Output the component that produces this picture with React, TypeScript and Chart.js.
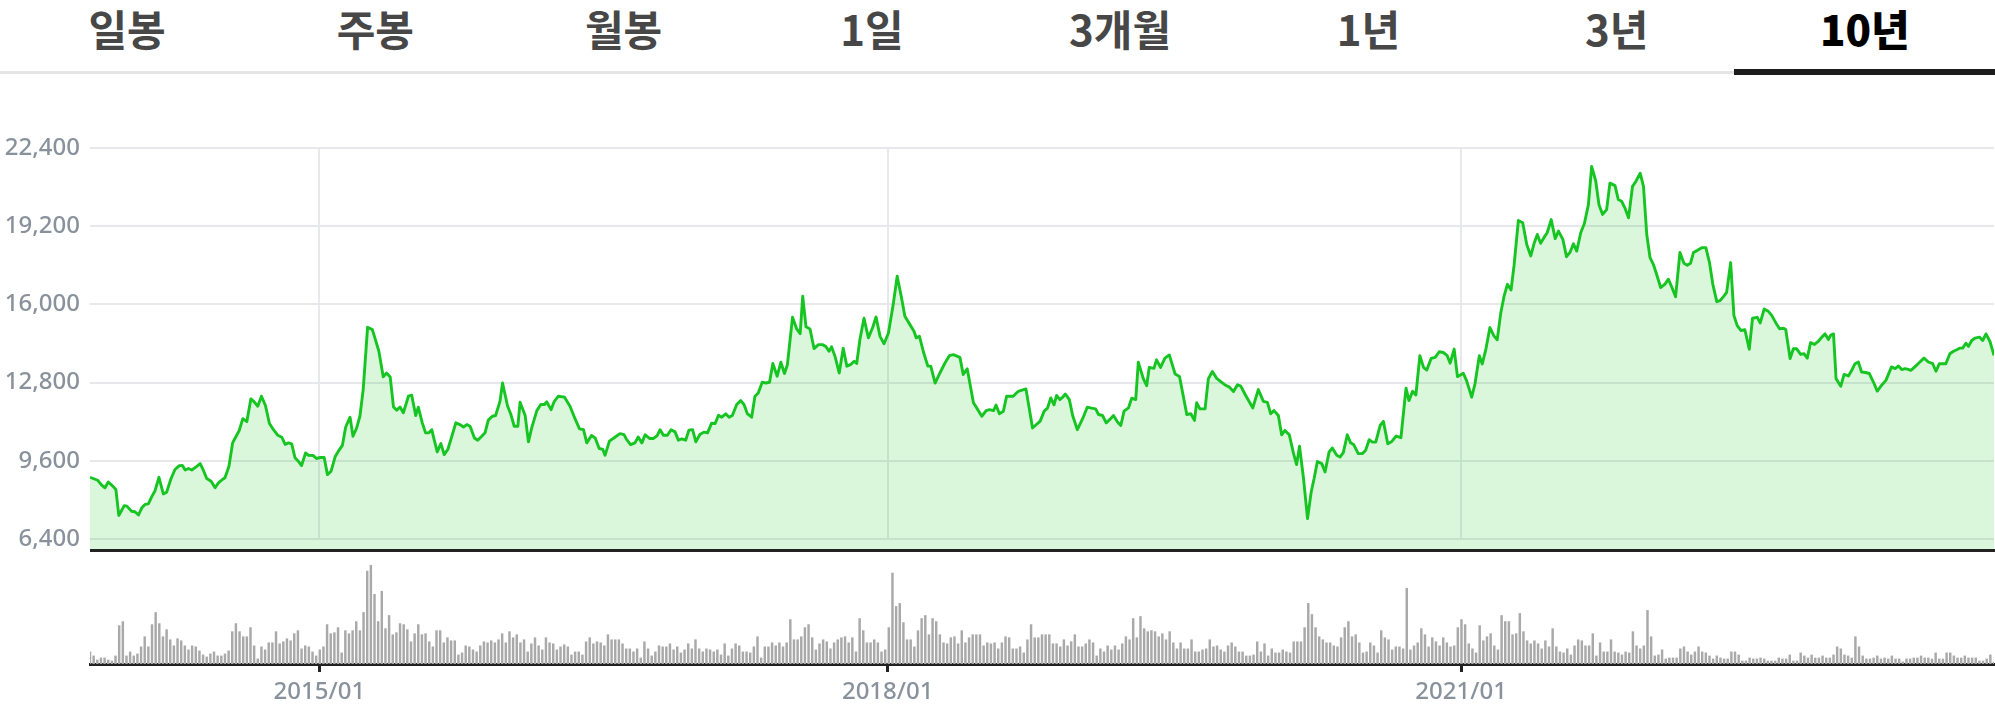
import React, { useEffect, useRef } from "react";
import { Chart, registerables } from "chart.js";

Chart.register(...registerables);

// ---------- data ----------
const tabLabels = ["일봉", "주봉", "월봉", "1일", "3개월", "1년", "3년", "10년"];
const activeTabIndex = 7;

const priceTicks = [6400, 9600, 12800, 16000, 19200, 22400];
const priceMin = 5920;
const priceMax = 22400;

// week index (0 = first week of the 10-year range) of each date label
const dateTickWeeks = [62.9, 218.7, 375.9];
const dateTickLabels = ["2015/01", "2018/01", "2021/01"];
const totalWeeks = 522;

// weekly closing price (week index, price in KRW)
const priceWeeks = [
  0.0, 2.1, 3.2, 4.1, 5.0, 6.1, 7.1, 7.9, 9.4, 10.1,
  11.4, 12.3, 13.3, 14.2, 15.1, 16.0, 16.9, 17.8, 18.9, 20.1,
  21.0, 22.2, 23.3, 24.5, 25.3, 26.1, 27.0, 27.9, 29.1, 30.2,
  31.1, 32.0, 33.2, 34.3, 35.2, 36.3, 37.0, 38.1, 39.1, 39.8,
  40.9, 41.9, 43.0, 44.1, 44.9, 46.0, 47.0, 48.1, 49.2, 50.3,
  51.5, 52.6, 53.5, 54.4, 55.3, 56.2, 57.1, 58.0, 59.1, 59.9,
  61.2, 62.1, 63.1, 64.2, 65.1, 66.1, 67.2, 68.1, 69.2, 70.1,
  71.3, 72.1, 73.1, 74.0, 74.9, 76.1, 77.4, 78.1, 79.2, 80.4,
  81.3, 82.3, 83.2, 84.1, 85.0, 85.9, 87.3, 88.2, 89.3, 90.0,
  91.1, 92.0, 92.9, 93.7, 94.3, 95.2, 96.2, 97.1, 98.1, 99.2,
  100.3, 101.4, 102.4, 103.3, 104.2, 105.4, 106.3, 107.4, 108.3, 109.2,
  110.3, 111.2, 112.4, 113.1, 114.5, 115.4, 116.3, 117.3, 117.9, 119.3,
  120.2, 121.1, 122.5, 123.6, 124.6, 125.2, 126.4, 127.3, 128.4, 130.1,
  131.6, 133.0, 134.2, 135.3, 136.2, 137.5, 138.5, 139.6, 140.6, 141.2,
  142.4, 143.9, 145.3, 146.4, 147.1, 148.2, 149.4, 150.3, 151.3, 152.2,
  153.4, 154.5, 155.5, 156.3, 157.2, 158.3, 159.3, 160.4, 161.3, 162.2,
  163.3, 164.2, 165.2, 166.1, 167.2, 168.3, 169.3, 170.4, 171.4, 172.3,
  173.2, 174.3, 175.2, 176.1, 177.3, 178.4, 179.3, 180.2, 181.4, 182.3,
  183.2, 184.3, 185.3, 186.3, 187.2, 188.4, 189.4, 190.4, 191.2, 192.6,
  193.7, 194.7, 195.4, 196.3, 197.4, 198.5, 199.7, 200.8, 201.7, 202.6,
  203.3, 204.3, 205.4, 206.5, 207.5, 208.5, 209.5, 210.2, 211.1, 212.2,
  213.4, 214.6, 215.5, 216.6, 217.7, 218.9, 220.2, 221.3, 222.5, 223.4,
  224.8, 225.9, 226.5, 227.4, 228.5, 229.7, 230.5, 231.7, 233.0, 234.4,
  235.6, 236.7, 238.5, 239.4, 240.5, 242.2, 243.4, 244.5, 245.7, 246.6,
  247.7, 248.4, 249.3, 250.4, 251.3, 253.1, 254.5, 256.6, 258.4, 260.5,
  261.6, 262.5, 263.4, 264.3, 265.0, 265.9, 266.7, 267.4, 268.5, 269.4,
  270.7, 272.2, 273.4, 274.6, 275.7, 276.5, 277.6, 278.6, 279.6, 280.6,
  281.7, 282.6, 283.5, 284.7, 285.6, 286.7, 287.4, 288.8, 289.7, 290.4,
  291.7, 292.4, 293.5, 294.7, 295.9, 297.5, 298.7, 300.7, 301.8, 302.8,
  303.4, 304.3, 305.7, 306.6, 307.7, 308.9, 310.0, 311.2, 312.4, 313.5,
  314.6, 315.5, 316.7, 318.8, 320.3, 321.7, 322.8, 323.7, 324.6, 325.8,
  326.7, 327.6, 328.8, 329.9, 330.8, 331.6, 332.7, 333.8, 334.8, 335.6,
  336.5, 337.7, 338.6, 339.7, 340.6, 341.8, 342.7, 343.6, 344.7, 345.6,
  346.5, 347.7, 348.8, 349.7, 350.7, 351.6, 352.5, 353.7, 354.6, 355.8,
  356.9, 358.1, 359.4, 360.8, 361.6, 362.6, 363.5, 364.6, 365.6, 366.5,
  367.7, 368.8, 369.9, 371.0, 372.1, 372.9, 374.0, 374.9, 376.5, 377.4,
  378.8, 379.7, 380.9, 381.7, 382.7, 383.8, 384.9, 385.8, 386.8, 387.7,
  388.6, 389.6, 390.4, 391.6, 392.8, 393.9, 395.0, 395.9, 396.8, 397.7,
  398.6, 399.5, 400.6, 401.7, 402.6, 403.8, 404.8, 405.8, 406.7, 407.6,
  408.7, 409.7, 410.8, 411.7, 412.8, 413.7, 414.7, 415.8, 416.7, 418.1,
  419.0, 419.9, 420.8, 421.8, 422.9, 423.8, 425.0, 425.9, 426.8, 427.7,
  428.6, 429.5, 430.6, 431.8, 432.7, 433.6, 434.7, 435.9, 437.0, 437.9,
  438.8, 439.6, 440.7, 441.9, 443.0, 444.0, 444.9, 446.0, 446.9, 448.0,
  448.7, 449.8, 450.7, 451.6, 452.6, 453.7, 454.9, 455.8, 457.1, 457.9,
  459.0, 460.1, 461.1, 462.2, 463.2, 464.3, 464.9, 466.1, 467.0, 467.9,
  469.0, 469.9, 470.8, 471.7, 472.8, 473.8, 474.8, 475.7, 476.6, 477.2,
  478.0, 478.7, 480.0, 480.9, 482.1, 483.0, 483.9, 484.8, 485.7, 486.8,
  487.8, 488.9, 490.0, 491.2, 492.4, 493.9, 494.9, 495.8, 496.7, 497.6,
  498.5, 499.2, 500.3, 501.4, 502.8, 504.0, 505.2, 506.1, 507.0, 507.9,
  508.8, 509.9, 510.9, 511.8, 512.7, 513.4, 514.3, 515.0, 515.9, 516.8,
  518.0, 518.9, 519.8, 520.9, 522.0,
];

const priceValues = [
  8920, 8800, 8600, 8490, 8730, 8580, 8420, 7360, 7760, 7740,
  7530, 7510, 7380, 7670, 7810, 7830, 8120, 8360, 8920, 8240,
  8310, 8860, 9240, 9400, 9410, 9220, 9280, 9220, 9350, 9480,
  9200, 8870, 8760, 8490, 8690, 8830, 8900, 9370, 10330, 10530,
  10830, 11320, 11200, 12130, 12030, 11830, 12240, 11860, 11120, 10870,
  10640, 10560, 10270, 10330, 10290, 9720, 9580, 9400, 9920, 9820,
  9810, 9690, 9730, 9730, 9030, 9170, 9760, 9990, 10230, 10980,
  11380, 10600, 10940, 11420, 12510, 15060, 14970, 14630, 14080, 13030,
  13190, 13030, 11800, 11670, 11800, 11560, 12240, 12280, 11450, 11790,
  11150, 10740, 10740, 10870, 10490, 9960, 10300, 9850, 10060, 10600,
  11150, 11080, 10980, 11080, 11010, 10530, 10440, 10600, 10740, 11260,
  11420, 11450, 12030, 12780, 11830, 11490, 11010, 11010, 11990, 11450,
  10370, 10940, 11650, 11900, 11900, 12010, 11690, 12030, 12240, 12200,
  11830, 11310, 10900, 10870, 10330, 10630, 10530, 10100, 10060, 9820,
  10400, 10560, 10710, 10670, 10470, 10260, 10330, 10570, 10330, 10660,
  10510, 10510, 10630, 10870, 10640, 10640, 10870, 10780, 10440, 10490,
  10440, 10850, 10870, 10370, 10670, 10770, 10740, 11130, 11120, 11460,
  11380, 11520, 11380, 11450, 11900, 12060, 11900, 11530, 11380, 12240,
  12370, 12810, 12780, 12810, 13580, 13060, 13630, 13170, 13530, 15470,
  15010, 14800, 16330, 15080, 14990, 14190, 14350, 14350, 14280, 14080,
  14260, 13850, 13190, 14200, 13470, 13530, 13670, 13580, 14580, 15430,
  14630, 15060, 15480, 14690, 14390, 14830, 15990, 17150, 16260, 15510,
  15170, 14900, 14630, 14690, 14050, 13470, 13470, 12780, 13190, 13600,
  13900, 13940, 13830, 13130, 13360, 11970, 11690, 11420, 11650, 11690,
  11650, 11880, 11520, 11620, 12240, 12240, 12440, 12540, 10940, 11220,
  11630, 11750, 12170, 11890, 12270, 12100, 12200, 12330, 12100, 11450,
  10870, 11340, 11790, 11750, 11720, 11490, 11450, 11150, 11290, 11450,
  11180, 11040, 11630, 11760, 12160, 12100, 13630, 12950, 12670, 13420,
  13380, 13730, 13420, 13800, 13930, 13150, 13050, 11490, 11520, 11250,
  11970, 11720, 11720, 12950, 13250, 12970, 12840, 12700, 12610, 12430,
  12710, 12650, 12310, 11760, 12510, 12030, 11990, 11520, 11650, 11450,
  10660, 10840, 10660, 9930, 9440, 10190, 8870, 7230, 8320, 8870,
  9570, 9480, 9140, 9950, 10120, 9820, 9750, 9930, 10660, 10330,
  10250, 9890, 9890, 10020, 10460, 10360, 10360, 11040, 11210, 10290,
  10390, 10610, 10540, 12570, 12060, 12440, 12290, 13900, 13420, 13310,
  13790, 13830, 14060, 14030, 13900, 13590, 14170, 13040, 13180, 12880,
  12200, 12740, 13900, 13560, 14170, 15050, 14710, 14550, 15670, 16350,
  16820, 16590, 17570, 19430, 19340, 18450, 17980, 18490, 18860, 18500,
  18730, 18930, 19470, 18690, 19000, 18660, 17950, 18140, 18480, 18180,
  18930, 19310, 20080, 21640, 21060, 20080, 19680, 19880, 20960, 20860,
  20290, 20220, 19950, 19540, 20830, 21030, 21370, 20830, 18860, 17910,
  17640, 17230, 16690, 16830, 17030, 16730, 16310, 18120, 17680, 17600,
  17680, 18120, 18210, 18320, 18320, 17710, 16830, 16110, 16150, 16350,
  16490, 17710, 15540, 15130, 14930, 14960, 14160, 15430, 15470, 15240,
  15810, 15720, 15540, 15240, 15000, 15020, 14970, 13780, 14180, 14180,
  13950, 13980, 13800, 14430, 14360, 14480, 14660, 14790, 14560, 14730,
  14790, 12960, 12650, 13130, 13070, 13300, 13570, 13640, 13230, 13210,
  13170, 12830, 12450, 12690, 12900, 13440, 13370, 13480, 13330, 13370,
  13340, 13300, 13440, 13600, 13800, 13640, 13570, 13260, 13570, 13570,
  13570, 13980, 14080, 14140, 14210, 14210, 14410, 14280, 14520, 14620,
  14660, 14520, 14790, 14480, 13910,
];

// weekly trading volume (relative units), one bar per week
const weeklyVolume = [
  12, 8, 4, 6, 6, 4, 3, 8, 38, 42,
  8, 12, 8, 10, 17, 27, 17, 39, 51, 40,
  27, 34, 24, 18, 25, 23, 18, 14, 18, 17,
  13, 9, 7, 10, 12, 8, 8, 10, 13, 32,
  40, 32, 27, 27, 36, 18, 5, 17, 14, 21,
  21, 32, 20, 22, 25, 23, 30, 33, 15, 18,
  17, 12, 8, 14, 17, 39, 30, 31, 36, 11,
  33, 30, 33, 42, 33, 51, 92, 98, 69, 42,
  72, 35, 48, 29, 31, 40, 39, 34, 22, 30,
  39, 29, 30, 22, 17, 33, 33, 21, 26, 23,
  23, 9, 11, 18, 17, 14, 12, 18, 22, 21,
  23, 21, 24, 30, 21, 32, 26, 29, 21, 24,
  12, 20, 26, 18, 14, 26, 21, 20, 14, 17,
  19, 17, 9, 12, 12, 9, 22, 26, 20, 22,
  21, 18, 29, 24, 24, 24, 20, 15, 15, 12,
  15, 6, 22, 15, 8, 12, 18, 17, 17, 20,
  14, 17, 11, 14, 20, 15, 24, 15, 12, 15,
  14, 12, 14, 9, 20, 8, 15, 20, 18, 12,
  12, 11, 17, 27, 6, 17, 17, 21, 18, 21,
  17, 21, 44, 24, 24, 27, 36, 39, 26, 14,
  20, 24, 22, 15, 21, 24, 26, 27, 21, 26,
  12, 45, 33, 21, 21, 24, 21, 12, 14, 36,
  90, 57, 60, 41, 24, 24, 17, 33, 45, 48,
  29, 45, 42, 29, 21, 20, 26, 27, 20, 33,
  21, 26, 29, 29, 29, 18, 21, 20, 21, 15,
  21, 27, 26, 15, 15, 17, 11, 24, 39, 26,
  26, 29,
  29, 29, 20, 20, 17, 24, 18, 22, 29, 17,
  17, 20, 24, 21, 8, 15, 12, 18, 14, 18,
  14, 20, 27, 24, 45, 26, 47, 35, 32, 33,
  32, 27, 30, 24, 32, 21, 15, 21, 15, 15,
  24, 12, 12, 14, 15, 24, 17, 18, 14, 12,
  18, 21, 17, 12, 12, 8, 8, 9, 22, 12,
  20, 8, 15, 11, 11, 14, 12, 11, 22, 22,
  22, 36, 60, 49, 36, 27, 24, 21, 21, 18,
  17, 26, 36, 42, 27, 29, 21, 11, 12, 21,
  18, 11, 33, 26, 24, 14, 17, 17, 15, 75,
  14, 18, 21, 35, 29, 17, 26, 22, 18, 26,
  21, 17, 18, 36, 44, 39, 20, 15, 11, 38,
  23, 27, 30, 18, 14, 48, 42, 42, 29, 30,
  50, 32,
  23, 20, 23, 20, 15, 23, 17, 35, 17, 12,
  11, 15, 9, 18, 24, 23, 18, 18, 30, 8,
  21, 12, 12, 24, 12, 11, 9, 12, 11, 32,
  18, 15, 18, 53, 27, 8, 9, 14, 5, 6,
  6, 6, 15, 17, 12, 9, 12, 17, 12, 11,
  8, 5, 8, 6, 5, 5, 12, 12, 9, 3,
  3, 6, 5, 5, 6, 5, 3, 3, 3, 6,
  5, 5, 9, 3, 3, 11, 8, 6, 9, 6,
  6, 8, 6, 6, 9, 17, 15, 9, 8, 6,
  27, 17, 8, 5, 5, 6, 8, 5, 6, 5,
  8, 5, 5, 2, 5, 5, 6, 6, 8, 6,
  6, 5, 11, 5, 5, 11, 11, 8, 6, 6,
  8, 6, 6, 6, 3, 3, 5, 9, 2,
];

// ---------- styles ----------
const LINE_GREEN = "#16c422";
const FILL_GREEN = "rgba(22,196,34,0.16)";
const GRID = "#e6e8ec";
const AXIS_DARK = "#222222";
const LABEL_GRAY = "#89929c";
const LABEL_FONT = '"Noto Sans", "DejaVu Sans", sans-serif';

const W = 1995;

const priceDecor = {
  id: "priceDecor",
  beforeDatasetsDraw(chart: any) {
    const { ctx, scales } = chart;
    const top = scales.y.getPixelForValue(priceTicks[priceTicks.length - 1]);
    const bottom = scales.y.getPixelForValue(priceTicks[0]);
    ctx.save();
    ctx.strokeStyle = GRID;
    ctx.lineWidth = 2;
    dateTickWeeks.forEach((w) => {
      const px = Math.round(scales.x.getPixelForValue(w));
      ctx.beginPath();
      ctx.moveTo(px, top);
      ctx.lineTo(px, bottom);
      ctx.stroke();
    });
    ctx.restore();
  },
  afterDatasetsDraw(chart: any) {
    const { ctx, chartArea } = chart;
    ctx.save();
    ctx.strokeStyle = AXIS_DARK;
    ctx.lineWidth = 3;
    ctx.beginPath();
    ctx.moveTo(chartArea.left, chartArea.bottom);
    ctx.lineTo(chart.width, chartArea.bottom);
    ctx.stroke();
    ctx.restore();
  },
};

export default function App() {
  const priceRef = useRef<HTMLCanvasElement | null>(null);
  const volRef = useRef<HTMLCanvasElement | null>(null);

  useEffect(() => {
    document.body.style.margin = "0";
    const priceChart = new Chart(priceRef.current as HTMLCanvasElement, {
      type: "line",
      data: {
        datasets: [
          {
            data: priceWeeks.map((w, i) => ({ x: w, y: priceValues[i] })),
            borderColor: LINE_GREEN,
            borderWidth: 2.9,
            backgroundColor: FILL_GREEN,
            fill: "start",
            pointRadius: 0,
            tension: 0,
            borderJoinStyle: "round",
          },
        ],
      },
      options: {
        animation: false,
        responsive: false,
        devicePixelRatio: 1,
        layout: { padding: { top: 48, bottom: 9, left: 0, right: 1 } },
        plugins: { legend: { display: false }, tooltip: { enabled: false } },
        scales: {
          x: { type: "linear", min: 0, max: totalWeeks, display: false },
          y: {
            min: priceMin,
            max: priceMax,
            afterBuildTicks: (s: any) => {
              s.ticks = priceTicks.map((v) => ({ value: v }));
            },
            afterFit: (s: any) => {
              s.width = 90;
            },
            grid: { color: GRID, lineWidth: 2, drawTicks: false },
            border: { display: false },
            ticks: {
              padding: 10,
              color: LABEL_GRAY,
              font: { family: LABEL_FONT, size: 24, weight: "500" },
              callback: (v: any) => Number(v).toLocaleString("en-US"),
            },
          },
        },
      } as any,
      plugins: [priceDecor],
    });

    const maxVol = Math.max(...weeklyVolume);
    const volChart = new Chart(volRef.current as HTMLCanvasElement, {
      type: "bar",
      data: {
        datasets: [
          {
            data: weeklyVolume.map((v, i) => ({ x: i, y: v })),
            backgroundColor: "#a9a9a9",
            barThickness: 1.8,
          },
        ],
      },
      options: {
        animation: false,
        responsive: false,
        devicePixelRatio: 1,
        layout: { padding: { top: 10, bottom: 0, left: 90, right: 1 } },
        plugins: { legend: { display: false }, tooltip: { enabled: false } },
        scales: {
          x: {
            type: "linear",
            min: 0,
            max: totalWeeks,
            offset: false,
            afterBuildTicks: (s: any) => {
              s.ticks = dateTickWeeks.map((v) => ({ value: v }));
            },
            afterFit: (s: any) => {
              s.height = 51;
            },
            grid: {
              offset: false,
              drawOnChartArea: false,
              drawTicks: true,
              tickLength: 8,
              tickWidth: 3,
              tickColor: AXIS_DARK,
            },
            border: { display: true, width: 3, color: AXIS_DARK },
            ticks: {
              autoSkip: false,
              maxRotation: 0,
              padding: 6,
              color: LABEL_GRAY,
              font: { family: LABEL_FONT, size: 24, weight: "500" },
              callback: (_v: any, i: number) => dateTickLabels[i],
            },
          },
          y: { display: false, min: 0, max: maxVol },
        },
      } as any,
    });

    return () => {
      priceChart.destroy();
      volChart.destroy();
    };
  }, []);

  return (
    <div style={{ position: "relative", width: W, height: 715, background: "#fff", overflow: "hidden" }}>
      <div style={{ position: "absolute", left: 3, top: -2, width: 1986, height: 60, display: "flex" }}>
        {tabLabels.map((t, i) => (
          <div
            key={t}
            style={{
              flex: "1 1 0",
              textAlign: "center",
              fontFamily: '"Noto Sans CJK KR", "Noto Sans", sans-serif',
              fontSize: 42,
              lineHeight: "60px",
              fontWeight: i === activeTabIndex ? 900 : 700,
              color: i === activeTabIndex ? "#000" : "#474747",
            }}
          >
            {t}
          </div>
        ))}
      </div>
      <div style={{ position: "absolute", left: 0, top: 71, width: W, height: 3, background: "#e5e5e5" }} />
      <div style={{ position: "absolute", left: 1734, top: 69, width: W - 1734, height: 6, background: "#1c1c1c" }} />
      <canvas
        ref={priceRef}
        width={W}
        height={475}
        style={{ position: "absolute", left: 0, top: 100, width: W, height: 475 }}
      />
      <canvas
        ref={volRef}
        width={W}
        height={160}
        style={{ position: "absolute", left: 0, top: 555, width: W, height: 160 }}
      />
    </div>
  );
}
